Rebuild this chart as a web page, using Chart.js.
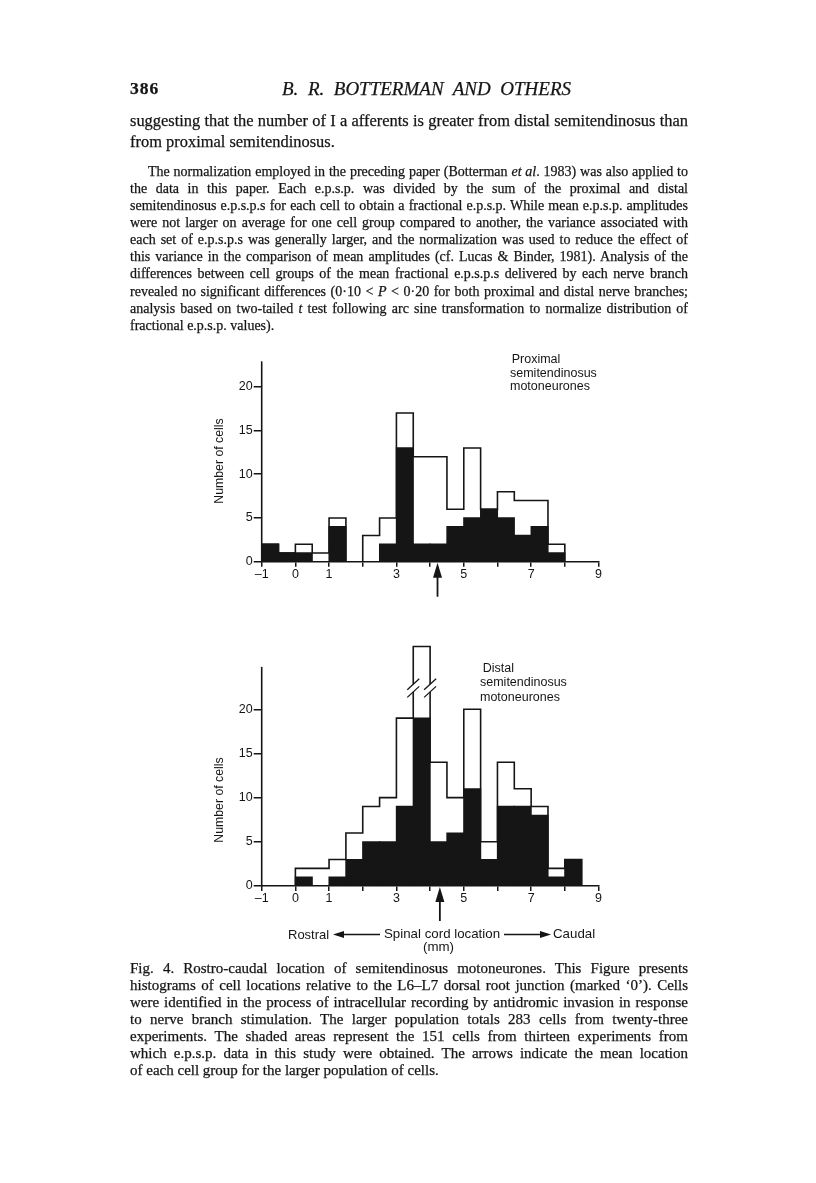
<!DOCTYPE html>
<html><head><meta charset="utf-8">
<script src="https://cdn.jsdelivr.net/npm/chart.js@4.4.0/dist/chart.umd.min.js"></script>
<style>
html,body{margin:0;padding:0;background:#fff;}
body{width:816px;height:1183px;position:relative;overflow:hidden;font-family:'Liberation Serif','Times New Roman',serif;color:#151515;}
.ln{position:absolute;white-space:nowrap;line-height:1;}
.serif{-webkit-text-stroke:0.25px #151515;}
.sans{font-family:'Liberation Sans',Arial,sans-serif;}
canvas{position:absolute;}
.rot{position:absolute;white-space:nowrap;line-height:1;transform:translate(-50%,-50%) rotate(-90deg);font-family:'Liberation Sans',Arial,sans-serif;}
svg{position:absolute;left:0;top:0;}
</style></head><body>
<canvas id="c1" width="430" height="270" style="left:190px;top:340px;width:430px;height:270px"></canvas>
<canvas id="c2" width="430" height="300" style="left:190px;top:625px;width:430px;height:300px"></canvas>
<svg width="816" height="1183" style="pointer-events:none">
  <line x1="340" y1="934.5" x2="380" y2="934.5" stroke="#151515" stroke-width="1.4"/>
  <polygon points="333,934.5 344,931 344,938" fill="#151515"/>
  <line x1="504" y1="934.5" x2="544" y2="934.5" stroke="#151515" stroke-width="1.4"/>
  <polygon points="551,934.5 540,931 540,938" fill="#151515"/>
</svg>
<script>
// ---------------- DATA ----------------
const binStart = [-1,-0.5,0,0.5,1,1.5,2,2.5,3,3.5,4,4.5,5,5.5,6,6.5,7,7.5,8,8.5];
const binWidth = 0.5;
// Proximal semitendinosus motoneurones
const proximalAll  = [2,1,2,1,5,0,3,5,17,12,12,6,13,6,8,7,7,2,0,0];
const proximalEpsp = [2,1,1,0,4,0,0,2,13,2,2,4,5,6,5,3,4,1,0,0];
// Distal semitendinosus motoneurones
const distalAll  = [0,0,2,2,3,6,9,10,19,35,14,10,20,5,14,11,9,2,3,0];
const distalEpsp = [0,0,1,0,1,3,5,5,9,19,5,6,11,3,9,9,8,1,3,0];
// mean location (arrows)
const meanLocation = [4.22, 4.29];
// broken bar in distal histogram
const distalCap = 27.1;
const distalBreakAt = 22.4;
// ticks
const xTickValues = [-1,0,1,2,3,4,5,6,7,8,9];
const xTickLabels = ['\u20131','0','1','','3','','5','','7','','9'];
const yTickValues = [0,5,10,15,20];
const yTickLabels = ['0','5','10','15','20'];
const chartTitles = [['Proximal','semitendinosus','motoneurones'],['Distal','semitendinosus','motoneurones']];
const yTitle = 'Number of cells';

// ---------------- CHARTS ----------------
const INK = '#151515';
const SANS = "'Liberation Sans', Arial, sans-serif";

const decor = {
  id:'decor',
  afterDatasetsDraw(chart, args, o){
    const ctx = chart.ctx, x = chart.scales.x, y = chart.scales.y;
    ctx.save();
    ctx.strokeStyle = INK; ctx.fillStyle = INK;
    ctx.lineWidth = 1.6;
    ctx.beginPath();
    ctx.moveTo(chart.chartArea.left, y.getPixelForValue(0)+0.8);
    ctx.lineTo(chart.chartArea.left, y.getPixelForValue(o.axisTop));
    ctx.stroke();
    if (o.breakBin !== undefined) {
      const cy = y.getPixelForValue(o.breakAt);
      [o.breakBin, o.breakBin + binWidth].forEach(v => {
        const xe = x.getPixelForValue(v);
        ctx.fillStyle = '#fff';
        ctx.fillRect(xe-2.5, cy-3.8, 5, 7.6);
        ctx.strokeStyle = INK; ctx.lineWidth = 1.3;
        [-3.8, 3.8].forEach(dy => {
          ctx.beginPath();
          ctx.moveTo(xe-6, cy+dy+5.5);
          ctx.lineTo(xe+6, cy+dy-5.5);
          ctx.stroke();
        });
      });
      ctx.fillStyle = INK;
    }
    const ax = x.getPixelForValue(o.arrowAt);
    const y0 = y.getPixelForValue(0) + 1;
    ctx.lineWidth = 1.8;
    ctx.beginPath(); ctx.moveTo(ax, y0+10); ctx.lineTo(ax, y0+34); ctx.stroke();
    ctx.beginPath(); ctx.moveTo(ax, y0); ctx.lineTo(ax-4.5, y0+15); ctx.lineTo(ax+4.5, y0+15); ctx.closePath(); ctx.fill();
    ctx.restore();
  }
};

function makeChart(id, all, epsp, cfg){
  const outline = binStart.map((b,i)=>({x:b, y: Math.min(all[i], cfg.cap ?? Infinity)}));
  outline.push({x: binStart[binStart.length-1]+binWidth, y:0});
  const bars = binStart.map((b,i)=>({x: b+binWidth/2, y: epsp[i]}));
  return new Chart(document.getElementById(id), {
    data:{datasets:[
      {type:'line', data: outline, stepped:'before', borderColor:INK, borderWidth:1.6, pointRadius:0, fill:false, order:0},
      {type:'bar', data: bars, backgroundColor:INK, borderWidth:0, barPercentage:1, categoryPercentage:1, inflateAmount:0.6, order:1}
    ]},
    options:{
      responsive:false, animation:false, devicePixelRatio:1,
      layout:{padding:{top:cfg.padTop, right:cfg.padRight, left:0, bottom:0}},
      plugins:{legend:{display:false}, tooltip:{enabled:false}, decor:cfg.decor},
      scales:{
        x:{type:'linear', min:-1, max:9, offset:false,
           grid:{drawOnChartArea:false, drawTicks:true, tickLength:5, color:INK, lineWidth:1.5, offset:false},
           border:{display:true, color:INK, width:1.6},
           afterBuildTicks:s=>{ s.ticks = xTickValues.map(v=>({value:v})); },
           ticks:{autoSkip:false, maxRotation:0, padding:0, color:INK, font:{family:SANS, size:12.5},
                  callback:v=>{ const i = xTickValues.indexOf(v); return i<0?'':xTickLabels[i]; }},
           afterFit:s=>{ s.height = cfg.xHeight; }
        },
        y:{type:'linear', min:0, max:cfg.yMax,
           grid:{drawOnChartArea:false, drawTicks:true, tickLength:8, color:INK, lineWidth:1.5},
           border:{display:false},
           afterBuildTicks:s=>{ s.ticks = yTickValues.map(v=>({value:v})); },
           ticks:{padding:1, color:INK, font:{family:SANS, size:12.5},
                  callback:v=>{ const i = yTickValues.indexOf(v); return i<0?'':yTickLabels[i]; }},
           afterFit:s=>{ s.width = 71.7; }
        }
      }
    },
    plugins:[decor]
  });
}

makeChart('c1', proximalAll, proximalEpsp, {
  yMax:23, padTop:20.45, padRight:21.5, xHeight:48.3,
  decor:{axisTop:22.9, arrowAt:meanLocation[0]}
});
makeChart('c2', distalAll, distalEpsp, {
  yMax:27.5, padTop:18, padRight:21.5, xHeight:39, cap:distalCap,
  decor:{axisTop:24.8, arrowAt:meanLocation[1], breakBin:3.5, breakAt:distalBreakAt}
});

// ---------------- TEXT ----------------
function mk(html, left, fs, cls, italic){
  const d = document.createElement('div');
  d.className = 'ln ' + cls;
  d.style.left = left + 'px';
  d.style.fontSize = fs + 'px';
  if (italic) d.style.fontStyle = 'italic';
  const s = document.createElement('span');
  s.innerHTML = html; d.appendChild(s);
  document.body.appendChild(d);
  return d;
}
function place(d, cy, fs, k){ d.style.fontSize = fs + 'px'; d.style.top = (cy - k*fs) + 'px'; }

// paragraph with uniform font size, all lines but the last justified
function addPara(lines, left, right, cy0, dy, base, indent, opts){
  opts = opts || {};
  const els = lines.map((t,i)=>mk(t, left + (i===0 ? indent : 0), base, 'serif', opts.italic));
  let scale = 1;
  els.forEach((d,i)=>{
    if (i === els.length-1 && !opts.justifyLast) return;
    const avail = right - left - (i===0 ? indent : 0);
    const w = d.firstChild.getBoundingClientRect().width;
    scale = Math.min(scale, (avail - 2) / w);
  });
  const fs = base * scale;
  els.forEach((d,i)=>{
    place(d, cy0 + dy*i, fs, 0.6);
    if (i < els.length-1 || opts.justifyLast) {
      d.style.width = (right - left - (i===0 ? indent : 0)) + 'px';
      d.style.whiteSpace = 'normal';
      d.style.textAlign = 'justify';
      d.style.textAlignLast = 'justify';
    }
  });
}
function addSans(t, left, cy, fs){ const d = mk(t, left, fs, 'sans'); place(d, cy, fs, 0.53); }

// header
{ const d = mk('386', 130, 17.5, 'serif'); d.style.fontWeight = 'bold'; d.style.letterSpacing = '1px'; place(d, 90, 17.5, 0.6); }
addPara(['B. R. BOTTERMAN AND OTHERS'], 282, 571, 90, 0, 19, 0, {italic:true, justifyLast:true});

// paragraph 1
addPara(['suggesting that the number of I a afferents is greater from distal semitendinosus than',
         'from proximal semitendinosus.'], 130, 688, 123, 20.5, 19, 0);

// paragraph 2
addPara([
 'The normalization employed in the preceding paper (Botterman <i>et al</i>. 1983) was also applied to',
 'the data in this paper. Each e.p.s.p. was divided by the sum of the proximal and distal',
 'semitendinosus e.p.s.p.s for each cell to obtain a fractional e.p.s.p. While mean e.p.s.p. amplitudes',
 'were not larger on average for one cell group compared to another, the variance associated with',
 'each set of e.p.s.p.s was generally larger, and the normalization was used to reduce the effect of',
 'this variance in the comparison of mean amplitudes (cf. Lucas &amp; Binder, 1981). Analysis of the',
 'differences between cell groups of the mean fractional e.p.s.p.s delivered by each nerve branch',
 'revealed no significant differences (0\u00b710 &lt; <i>P</i> &lt; 0\u00b720 for both proximal and distal nerve branches;',
 'analysis based on two-tailed <i>t</i> test following arc sine transformation to normalize distribution of',
 'fractional e.p.s.p. values).'
], 130, 688, 173.2, 17.1, 14, 18);

// caption
addPara([
 'Fig. 4. Rostro-caudal location of semitendinosus motoneurones. This Figure presents',
 'histograms of cell locations relative to the L6\u2013L7 dorsal root junction (marked \u20180\u2019). Cells',
 'were identified in the process of intracellular recording by antidromic invasion in response',
 'to nerve branch stimulation. The larger population totals 283 cells from twenty-three',
 'experiments. The shaded areas represent the 151 cells from thirteen experiments from',
 'which e.p.s.p. data in this study were obtained. The arrows indicate the mean location',
 'of each cell group for the larger population of cells.'
], 130, 688, 969.5, 17, 15, 0);

// chart labels
addSans(chartTitles[0][0], 511.7, 359.3, 12.5);
addSans(chartTitles[0][1], 510, 373.3, 12.5);
addSans(chartTitles[0][2], 510, 386.7, 12.5);
addSans(chartTitles[1][0], 482.7, 668.3, 12.5);
addSans(chartTitles[1][1], 480, 682.7, 12.5);
addSans(chartTitles[1][2], 480, 697.3, 12.5);

[[219,460.5],[219,800]].forEach(p=>{
  const d = document.createElement('div');
  d.className = 'rot'; d.style.left = p[0]+'px'; d.style.top = p[1]+'px'; d.style.fontSize = '12.3px';
  d.textContent = yTitle; document.body.appendChild(d);
});

addSans('Rostral', 288, 934.5, 13);
addSans('Spinal cord location', 384, 934.5, 13.3);
addSans('Caudal', 553, 934.5, 13.3);
addSans('(mm)', 423, 947.5, 13.3);
</script>
</body></html>
